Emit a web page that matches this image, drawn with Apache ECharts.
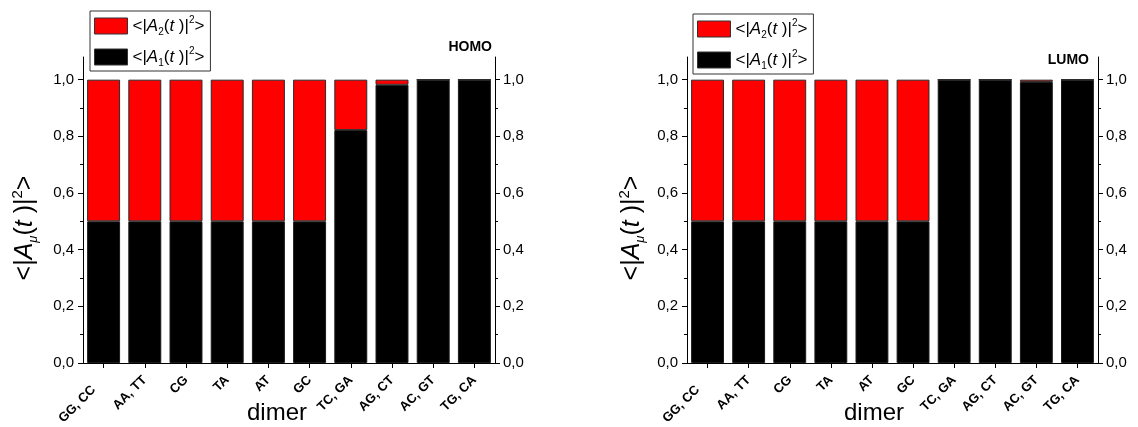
<!DOCTYPE html>
<html>
<head>
<meta charset="utf-8">
<script src="https://cdn.jsdelivr.net/npm/echarts@6/dist/echarts.min.js"></script>
<style>
html,body{margin:0;padding:0;background:#fff;}
#c{width:1138px;height:427px;}
</style>
</head>
<body>
<div id="c"></div>
<script>
// ---- data ----
const categories = ['GG, CC','AA, TT','CG','TA','AT','GC','TC, GA','AG, CT','AC, GT','TG, CA'];
const homoA1 = [0.5,0.5,0.5,0.5,0.5,0.5,0.822,0.982,1.0,1.0];
const homoA2 = [0.5,0.5,0.5,0.5,0.5,0.5,0.178,0.018,0.0,0.0];
const lumoA1 = [0.5,0.5,0.5,0.5,0.5,0.5,1.0,1.0,0.992,1.0];
const lumoA2 = [0.5,0.5,0.5,0.5,0.5,0.5,0.0,0.0,0.008,0.0];
const majorTicks = [0,0.2,0.4,0.6,0.8,1.0];
const minorTicks = [0.1,0.3,0.5,0.7,0.9];
const panelTitles = ['HOMO','LUMO'];

const FONT = '"Liberation Sans", Arial, sans-serif';
const chart = echarts.init(document.getElementById('c'));

const grids = [
  {left:83, right:643, top:57, bottom:64, outerBoundsMode:'none', containLabel:false},
  {left:687, right:40, top:57, bottom:64, outerBoundsMode:'none', containLabel:false}
];

function fmt(v){ return v.toFixed(1).replace('.', ','); }

const rich = {
  n:{fontFamily:FONT,fontSize:17,color:'#000',lineHeight:22,verticalAlign:'middle'},
  i:{fontFamily:FONT,fontSize:17,fontStyle:'italic',color:'#000',lineHeight:22,verticalAlign:'middle'},
  sub:{fontFamily:FONT,fontSize:10,color:'#000',lineHeight:10,verticalAlign:'bottom',padding:[8,0,0,0]},
  sup:{fontFamily:FONT,fontSize:10,color:'#000',lineHeight:10,verticalAlign:'top',padding:[0,0,8,0]}
};
function legendFmt(name){
  const k = name === 'A2' ? '2' : '1';
  return '{n|<|}{i|A}{sub|' + k + '}{n|(}{i|t}{n| )|}{sup|2}{n|>}';
}

const xLabelRich = {
  a:{fontFamily:FONT,fontSize:13,fontWeight:'bold',color:'#000'},
  b:{fontFamily:FONT,fontSize:13,fontWeight:'bold',color:'#000',padding:[0,14,0,0]}
};
function xFmt(v, idx){ return idx === 0 ? '{b|' + v + '}' : '{a|' + v + '}'; }

const xAxes = [], yAxes = [], series = [];
[0,1].forEach(g => {
  xAxes.push({
    type:'category', gridIndex:g, data:categories,
    axisLine:{show:true,lineStyle:{color:'#000',width:1}},
    axisTick:{show:true,alignWithLabel:true,length:5,lineStyle:{color:'#000'}},
    axisLabel:{interval:0,rotate:45,fontFamily:FONT,fontSize:13,fontWeight:'bold',color:'#000',margin:15,hideOverlap:false,formatter:xFmt,rich:xLabelRich},
    splitLine:{show:false}
  });
  ['left','right'].forEach(pos => {
    yAxes.push({
      type:'value', gridIndex:g, position:pos, min:0, max:1.08,
      axisLine:{show:true,lineStyle:{color:'#000',width:1}},
      axisTick:{show:true,inside:false,length:5,customValues:majorTicks,lineStyle:{color:'#000'}},
      axisLabel:{show:true,customValues:majorTicks,formatter:fmt,fontFamily:FONT,fontSize:15,color:'#000',margin:pos==='left'?9:8},
      splitLine:{show:false}
    });
  });
  ['left','right'].forEach(pos => {
    yAxes.push({
      type:'value', gridIndex:g, position:pos, min:0, max:1.08,
      axisLine:{show:false},
      axisTick:{show:true,inside:false,length:3,customValues:minorTicks,lineStyle:{color:'#000'}},
      axisLabel:{show:false},
      splitLine:{show:false}
    });
  });
  const a1 = g === 0 ? homoA1 : lumoA1;
  const a2 = g === 0 ? homoA2 : lumoA2;
  series.push({
    name:'A1', type:'bar', xAxisIndex:g, yAxisIndex:g*4, stack:'s'+g, data:a1, barWidth:'80%',
    itemStyle:{color:'#000',borderColor:'#1a1a1a',borderWidth:1}, animation:false
  });
  series.push({
    name:'A2', type:'bar', xAxisIndex:g, yAxisIndex:g*4, stack:'s'+g, data:a2, barWidth:'80%',
    itemStyle:{color:'#ff0000',borderColor:'#2a2a2a',borderWidth:1}, animation:false
  });
});

const legendBase = {
  orient:'vertical', data:['A2','A1'], itemWidth:33, itemHeight:16, itemGap:9, itemTextGap:8,
  padding:[4,6,3,4], borderColor:'#333', borderWidth:1, backgroundColor:'#fff',
  icon:'rect', selectedMode:false, formatter:legendFmt,
  itemStyle:{borderColor:'#333',borderWidth:1},
  textStyle:{rich:rich, fontFamily:FONT, fontSize:17, color:'#000'}
};

const yTitleRich = {
  n:{fontFamily:FONT,fontSize:25,color:'#000',lineHeight:30,verticalAlign:'middle'},
  i:{fontFamily:FONT,fontSize:25,fontStyle:'italic',color:'#000',lineHeight:30,verticalAlign:'middle'},
  sub:{fontFamily:FONT,fontSize:13,fontStyle:'italic',color:'#000',lineHeight:12,verticalAlign:'bottom',padding:[12,0,0,0]},
  sup:{fontFamily:FONT,fontSize:15,color:'#000',lineHeight:14,verticalAlign:'top',padding:[0,0,12,0]}
};
const yTitleText = '{n|<|}{i|A}{sub|μ}{n|(}{i|t}{n| )|}{sup|2}{n|>}';

chart.setOption({
  animation:false,
  grid:grids,
  xAxis:xAxes,
  yAxis:yAxes,
  series:series,
  legend:[
    Object.assign({}, legendBase, {left:90, top:11}),
    Object.assign({}, legendBase, {left:693, top:14})
  ],
  graphic:[
    {type:'text', x:25, y:228, rotation:Math.PI/2, style:{text:yTitleText, rich:yTitleRich, align:'center', verticalAlign:'middle'}},
    {type:'text', x:632, y:228, rotation:Math.PI/2, style:{text:yTitleText, rich:yTitleRich, align:'center', verticalAlign:'middle'}},
    {type:'text', x:277, y:413, style:{text:'dimer', fontFamily:FONT, fontSize:24, fill:'#000', align:'center', verticalAlign:'middle'}},
    {type:'text', x:874, y:413, style:{text:'dimer', fontFamily:FONT, fontSize:24, fill:'#000', align:'center', verticalAlign:'middle'}},
    {type:'text', x:492, y:47, style:{text:panelTitles[0], fontFamily:FONT, fontSize:14, fontWeight:'bold', fill:'#000', align:'right', verticalAlign:'middle'}},
    {type:'text', x:1089, y:60, style:{text:panelTitles[1], fontFamily:FONT, fontSize:14, fontWeight:'bold', fill:'#000', align:'right', verticalAlign:'middle'}}
  ]
});
</script>
</body>
</html>
